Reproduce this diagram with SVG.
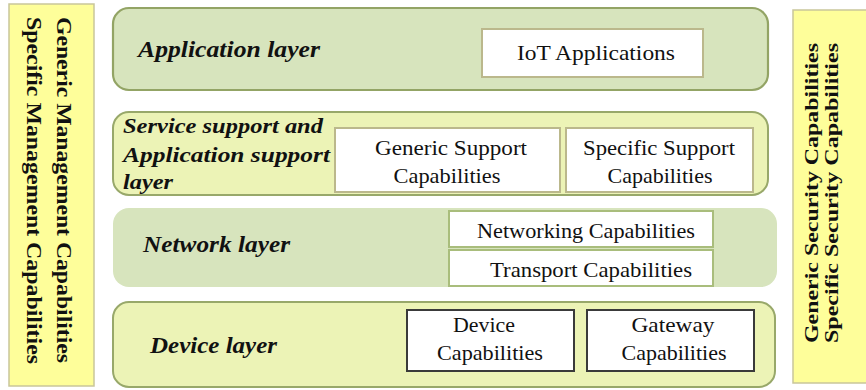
<svg xmlns="http://www.w3.org/2000/svg" width="866" height="390" viewBox="0 0 866 390">
<style>
.side{fill:#fefe9a;stroke:#c9c69a;stroke-width:1.5}
.lyrG{fill:#d7e4bd;stroke:#93a465;stroke-width:2.2}
.lyrN{fill:#d7e4bd;stroke:none}
.lyrY{fill:#ecf3b6;stroke:#98a86a;stroke-width:2}
.boxT{fill:#ffffff;stroke:#bbb88c;stroke-width:2}
.boxN{fill:#ffffff;stroke:#a9bd7c;stroke-width:2}
.boxD{fill:#ffffff;stroke:#3a3a3a;stroke-width:2}
text{font-family:"Liberation Serif","Times New Roman","DejaVu Serif",serif;fill:#111}
.vt{font-weight:bold}
.lt{font-weight:bold;font-style:italic;font-size:23px}
.ls{font-weight:bold;font-style:italic;font-size:22px}
.bt{font-size:22px;text-anchor:middle}
</style>
<rect width="866" height="390" fill="#ffffff"/>

<g id="management">
<rect class="side" x="9" y="4" width="85" height="382"/>
<text class="vt" font-size="22" transform="translate(57,17) rotate(90)"><tspan x="0" y="0" textLength="346" lengthAdjust="spacingAndGlyphs">Generic Management Capabilities</tspan><tspan x="0" y="30" textLength="347" lengthAdjust="spacingAndGlyphs">Specific Management Capabilities</tspan></text>
</g>

<g id="security">
<rect class="side" x="793" y="10" width="80" height="373"/>
<text class="vt" font-size="19" transform="translate(818,343) rotate(-90)"><tspan x="0" y="0" textLength="300" lengthAdjust="spacingAndGlyphs">Generic Security Capabilities</tspan><tspan x="0" y="20" textLength="300" lengthAdjust="spacingAndGlyphs">Specific Security Capabilities</tspan></text>
</g>

<g id="application-layer">
<rect class="lyrG" x="113" y="8" width="655" height="82" rx="16"/>
<text class="lt" x="138" y="57" textLength="182" lengthAdjust="spacingAndGlyphs">Application layer</text>
</g>
<g id="iot-applications">
<rect class="boxT" x="482" y="29" width="221" height="48"/>
<text class="bt" x="596" y="60" textLength="158" lengthAdjust="spacingAndGlyphs">IoT Applications</text>
</g>

<g id="service-layer">
<rect class="lyrY" x="113" y="112" width="655" height="83" rx="16"/>
<text class="ls" x="123" y="133" textLength="200" lengthAdjust="spacingAndGlyphs">Service support and</text>
<text class="ls" x="123" y="162" textLength="207" lengthAdjust="spacingAndGlyphs">Application support</text>
<text class="ls" x="123" y="189" textLength="50" lengthAdjust="spacingAndGlyphs">layer</text>
</g>
<g id="generic-support">
<rect class="boxT" x="335" y="128" width="225" height="64"/>
<text class="bt" x="451" y="155" textLength="152" lengthAdjust="spacingAndGlyphs">Generic Support</text>
<text class="bt" x="447" y="183" textLength="107" lengthAdjust="spacingAndGlyphs">Capabilities</text>
</g>
<g id="specific-support">
<rect class="boxT" x="566" y="128" width="187" height="64"/>
<text class="bt" x="659" y="155" textLength="152" lengthAdjust="spacingAndGlyphs">Specific Support</text>
<text class="bt" x="660" y="183" textLength="105" lengthAdjust="spacingAndGlyphs">Capabilities</text>
</g>

<g id="network-layer">
<rect class="lyrN" x="113" y="208" width="664" height="79" rx="16"/>
<text class="lt" x="143" y="252" textLength="147" lengthAdjust="spacingAndGlyphs">Network layer</text>
</g>
<g id="networking-capabilities">
<rect class="boxN" x="449" y="211" width="264" height="36"/>
<text class="bt" x="586" y="238" textLength="218" lengthAdjust="spacingAndGlyphs">Networking Capabilities</text>
</g>
<g id="transport-capabilities">
<rect class="boxN" x="449" y="250" width="264" height="36"/>
<text class="bt" x="591" y="277" textLength="202" lengthAdjust="spacingAndGlyphs">Transport Capabilities</text>
</g>

<g id="device-layer">
<rect class="lyrY" x="113" y="302" width="662" height="85" rx="16"/>
<text class="lt" x="150" y="353" textLength="127" lengthAdjust="spacingAndGlyphs">Device layer</text>
</g>
<g id="device-capabilities">
<rect class="boxD" x="407" y="310" width="167" height="61"/>
<text class="bt" x="484" y="332" textLength="62" lengthAdjust="spacingAndGlyphs">Device</text>
<text class="bt" x="490" y="360" textLength="106" lengthAdjust="spacingAndGlyphs">Capabilities</text>
</g>
<g id="gateway-capabilities">
<rect class="boxD" x="587" y="310" width="167" height="61"/>
<text class="bt" x="673" y="332" textLength="83" lengthAdjust="spacingAndGlyphs">Gateway</text>
<text class="bt" x="674" y="360" textLength="105" lengthAdjust="spacingAndGlyphs">Capabilities</text>
</g>

<g id="connectors"></g>
</svg>
